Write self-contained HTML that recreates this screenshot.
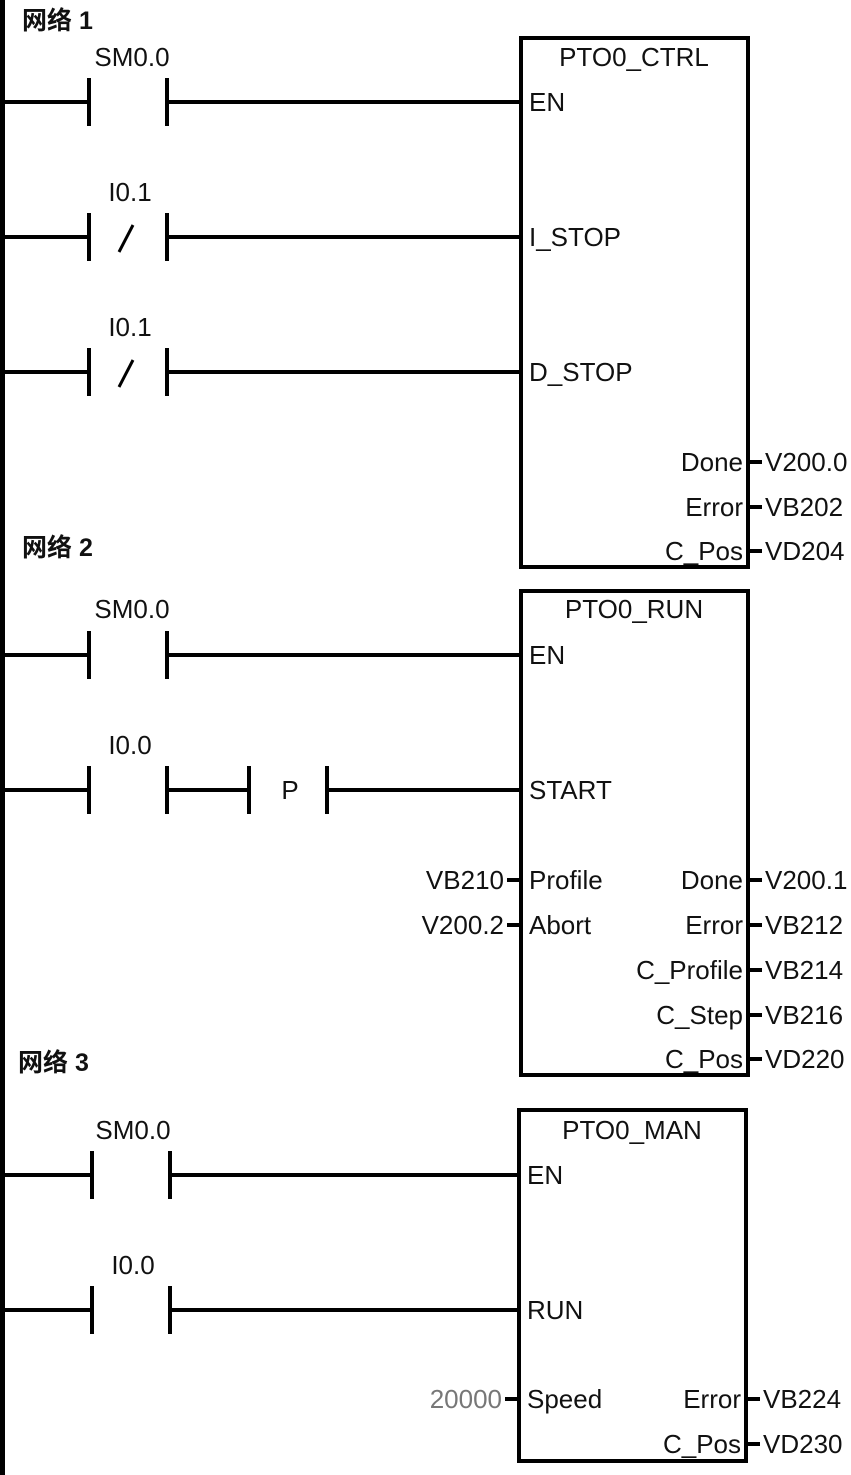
<!DOCTYPE html>
<html><head><meta charset="utf-8"><style>
html,body{margin:0;padding:0;background:#fff;}
svg{display:block}
text{font-family:"Liberation Sans","Noto Sans CJK SC",sans-serif;font-size:26px;fill:#111}
.h{font-weight:bold;font-size:25px}
</style></head><body>
<svg width="851" height="1475" viewBox="0 0 851 1475" xmlns="http://www.w3.org/2000/svg">
<g stroke="#000" fill="none" stroke-width="4">
<line x1="2.5" y1="0" x2="2.5" y2="1475" stroke-width="5"/>
<!-- net1 -->
<path d="M0 102H89M167 102H519M89 78V126M167 78V126"/>
<path d="M0 237H89M167 237H519M89 213V261M167 213V261"/>
<path d="M0 372H89M167 372H519M89 348V396M167 348V396"/>
<path d="M133 225L119 252M133 360L119 387" stroke-width="3"/>
<rect x="521" y="38" width="227" height="529"/>
<path d="M749 462H762M749 507H762M749 551H762"/>
<!-- net2 -->
<path d="M0 655H89M167 655H519M89 631V679M167 631V679"/>
<path d="M0 790H89M167 790H249M327 790H519M89 766V814M167 766V814M249 766V814M327 766V814"/>
<rect x="521" y="591" width="227" height="484"/>
<path d="M507 880H519M507 925H519"/>
<path d="M749 880H762M749 925H762M749 970H762M749 1015H762M749 1059H762"/>
<!-- net3 -->
<path d="M0 1175H92M170 1175H517M92 1151V1199M170 1151V1199"/>
<path d="M0 1310H92M170 1310H517M92 1286V1334M170 1286V1334"/>
<rect x="519" y="1110" width="227" height="351"/>
<path d="M505 1399H517M747 1399H760M747 1444H760"/>
</g>
<text class="h" x="22" y="29">网络 1</text>
<text x="132" y="66" text-anchor="middle">SM0.0</text>
<text x="130" y="201" text-anchor="middle">I0.1</text>
<text x="130" y="336" text-anchor="middle">I0.1</text>
<text x="634" y="66" text-anchor="middle">PTO0_CTRL</text>
<text x="529" y="111">EN</text>
<text x="529" y="246">I_STOP</text>
<text x="529" y="381">D_STOP</text>
<text x="743" y="471" text-anchor="end">Done</text>
<text x="743" y="516" text-anchor="end">Error</text>
<text x="743" y="560" text-anchor="end">C_Pos</text>
<text x="765" y="471">V200.0</text>
<text x="765" y="516">VB202</text>
<text x="765" y="560">VD204</text>

<text class="h" x="22" y="556">网络 2</text>
<text x="132" y="618" text-anchor="middle">SM0.0</text>
<text x="130" y="754" text-anchor="middle">I0.0</text>
<text x="290" y="799" text-anchor="middle">P</text>
<text x="634" y="618" text-anchor="middle">PTO0_RUN</text>
<text x="529" y="664">EN</text>
<text x="529" y="799">START</text>
<text x="529" y="889">Profile</text>
<text x="529" y="934">Abort</text>
<text x="504" y="889" text-anchor="end">VB210</text>
<text x="504" y="934" text-anchor="end">V200.2</text>
<text x="743" y="889" text-anchor="end">Done</text>
<text x="743" y="934" text-anchor="end">Error</text>
<text x="743" y="979" text-anchor="end">C_Profile</text>
<text x="743" y="1024" text-anchor="end">C_Step</text>
<text x="743" y="1068" text-anchor="end">C_Pos</text>
<text x="765" y="889">V200.1</text>
<text x="765" y="934">VB212</text>
<text x="765" y="979">VB214</text>
<text x="765" y="1024">VB216</text>
<text x="765" y="1068">VD220</text>

<text class="h" x="18" y="1071">网络 3</text>
<text x="133" y="1139" text-anchor="middle">SM0.0</text>
<text x="133" y="1274" text-anchor="middle">I0.0</text>
<text x="632" y="1139" text-anchor="middle">PTO0_MAN</text>
<text x="527" y="1184">EN</text>
<text x="527" y="1319">RUN</text>
<text x="527" y="1408">Speed</text>
<text x="502" y="1408" text-anchor="end" style="fill:#777">20000</text>
<text x="741" y="1408" text-anchor="end">Error</text>
<text x="741" y="1453" text-anchor="end">C_Pos</text>
<text x="763" y="1408">VB224</text>
<text x="763" y="1453">VD230</text>
</svg>
</body></html>
